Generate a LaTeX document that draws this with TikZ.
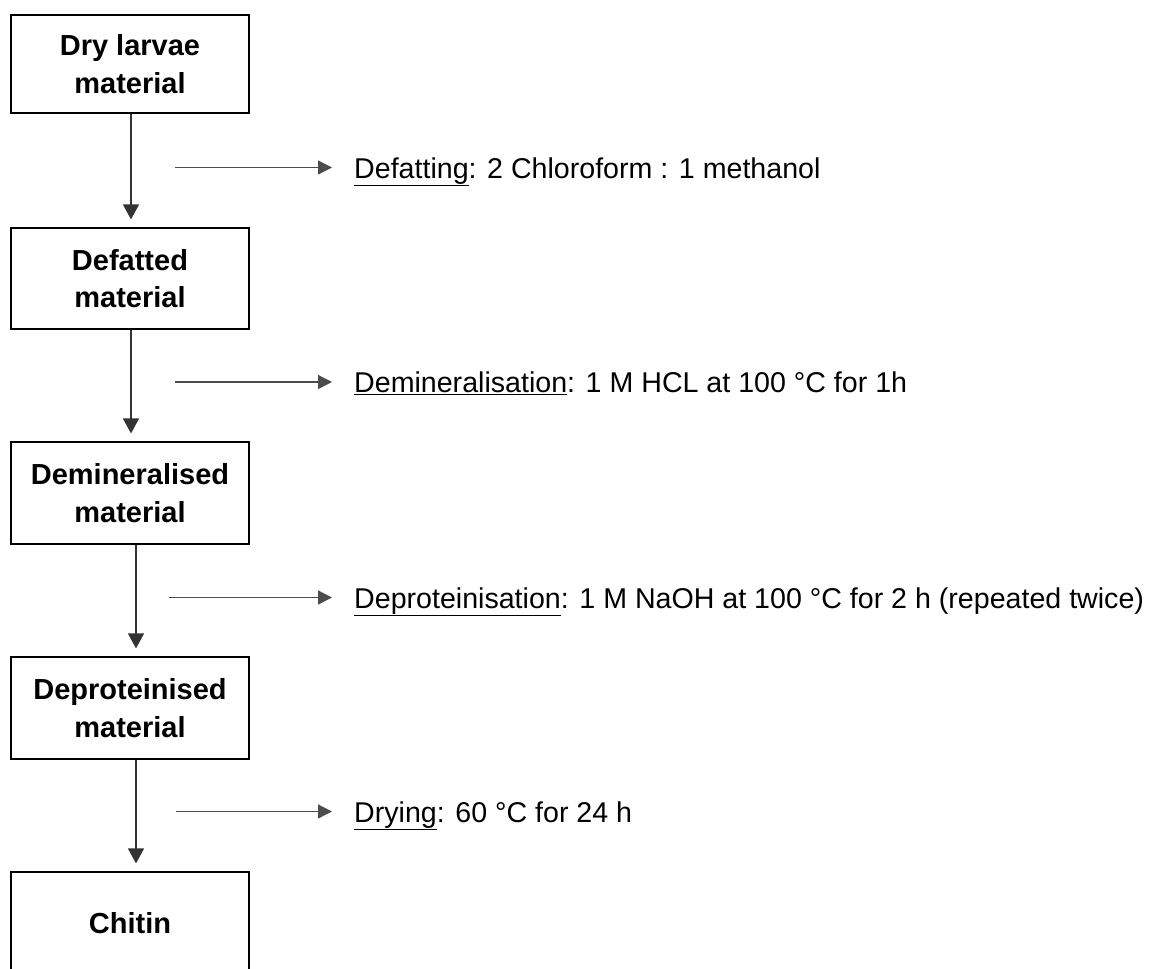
\documentclass[tikz,border=0pt]{standalone}
\usepackage{fontspec}
\setmainfont{Liberation Sans}
\usetikzlibrary{arrows.meta}
\begin{document}
\begin{tikzpicture}[x=1pt,y=1pt,
  stagebox/.style={draw=black,line width=2.2pt,minimum width=238pt,inner sep=0pt,
    align=center,font=\fontsize{29}{37.5}\selectfont\bfseries},
  flow/.style={draw=black!80,line width=1.4pt,-{Triangle[length=15pt,width=16pt]},shorten >=7.5pt},
  side/.style={draw=black!70,line width=1.3pt,-{Triangle[length=14pt,width=14pt]},shorten >=22pt},
  steplabel/.style={anchor=base west,inner sep=0pt,font=\fontsize{28.6}{34}\selectfont}]
\useasboundingbox (0,0) rectangle (1163,-969);
\clip (0,0) rectangle (1163,-969);
\node[stagebox,minimum height=98pt] (b1) at (130,-64) {Dry larvae\\material};
\node[stagebox,minimum height=101pt] (b2) at (130,-278.5) {Defatted\\material};
\node[stagebox,minimum height=102pt] (b3) at (130,-493) {Demineralised\\material};
\node[stagebox,minimum height=102pt] (b4) at (130,-708) {Deproteinised\\material};
\node[stagebox,minimum height=102pt] (b5) at (130,-923) {Chitin};

\draw[flow] (b1.south -| 131,0) -- (b2.north -| 131,0);
\draw[flow] (b2.south -| 131,0) -- (b3.north -| 131,0);
\draw[flow] (b3.south -| 136,0) -- (b4.north -| 136,0);
\draw[flow] (b4.south -| 136,0) -- (b5.north -| 136,0);

\node[steplabel] (l1) at (354,-178) {\underline{Defatting}: 2 Chloroform : 1 methanol};
\node[steplabel] (l2) at (354,-392.5) {\underline{Demineralisation}: 1 M HCL at 100 °C for 1h};
\node[steplabel] (l3) at (354,-608) {\underline{Deproteinisation}: 1 M NaOH at 100 °C for 2 h (repeated twice)};
\node[steplabel] (l4) at (354,-822) {\underline{Drying}: 60 °C for 24 h};

\coordinate (s1) at (175,-167.5);
\coordinate (s2) at (175,-382);
\coordinate (s3) at (169,-597.5);
\coordinate (s4) at (176,-811.5);
\draw[side] (s1) -- (s1 -| l1.west);
\draw[side] (s2) -- (s2 -| l2.west);
\draw[side] (s3) -- (s3 -| l3.west);
\draw[side] (s4) -- (s4 -| l4.west);
\end{tikzpicture}
\end{document}
